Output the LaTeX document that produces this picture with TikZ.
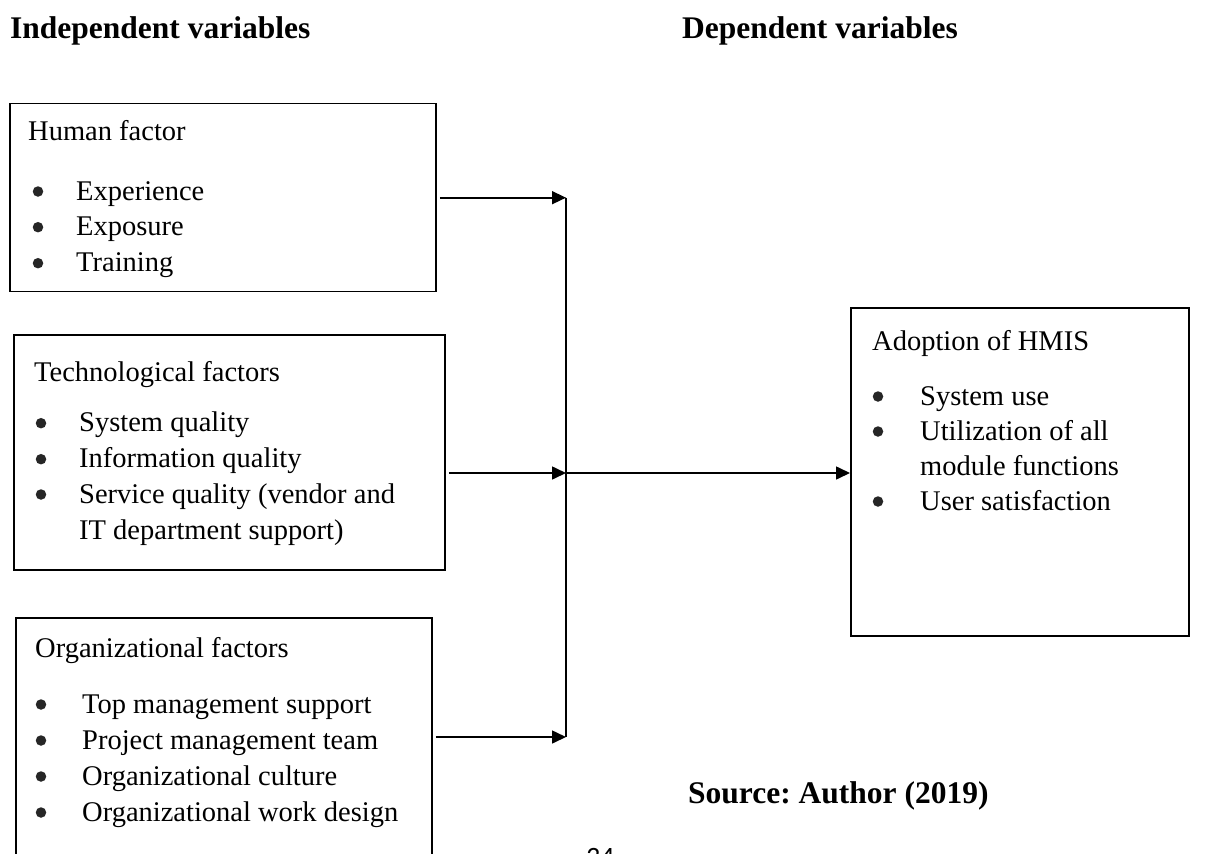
\documentclass[tikz,border=0pt]{standalone}
\usepackage{fontspec}
\setmainfont{Liberation Serif}
\newfontfamily\pagenumfont{Carlito}
\usetikzlibrary{arrows.meta}
\begin{document}
\frenchspacing
\begin{tikzpicture}[x=1pt,y=-1pt,
  box/.style={draw,line width=1.8pt,inner sep=0pt,anchor=north west},
  tx/.style={anchor=base west,inner sep=0pt,font=\fontsize{28.5}{34}\selectfont},
  dot/.style={circle,fill=black!85,draw=none,inner sep=0pt,minimum size=10.5pt,yshift=8.5pt},
  hd/.style={anchor=base west,inner sep=0pt,font=\fontsize{31.5}{36}\selectfont\bfseries},
  pgn/.style={anchor=base west,inner sep=0pt,font=\pagenumfont\fontsize{28}{30}\selectfont},
  ln/.style={line width=1.6pt},
  arr/.style={line width=1.6pt,-{Triangle[length=14pt,width=13pt]}}]
\useasboundingbox (0,0) rectangle (1211,854);
\begin{scope}
\clip (0,0) rectangle (1211,854);
\fill[white] (0,0) rectangle (1211,854);
% headings
\node[hd] (ih) at (10,38) {Independent variables};
\node[hd] (dh) at (682,38) {Dependent variables};
\node[hd] (src) at (688,803) {Source: Author (2019)};
\node[pgn] (pg) at (586,866) {34};
% boxes
\node[box,minimum width=426pt,minimum height=188pt] (hb) at (9,102.5) {};
\node[box,minimum width=431pt,minimum height=235pt] (tb) at (13,334) {};
\node[box,minimum width=416pt,minimum height=300pt] (ob) at (15,617) {};
\node[box,minimum width=338pt,minimum height=328pt] (ab) at (850,307) {};
% human
\node[tx] (h0) at (28,140.7) {Human factor};
\node[dot] (hd1) at (38,200) {}; \node[tx] (h1) at (76,200) {Experience};
\node[dot] (hd2) at (38,235.7) {}; \node[tx] (h2) at (76,235.7) {Exposure};
\node[dot] (hd3) at (38,271.7) {}; \node[tx] (h3) at (76,271.7) {Training};
% technological
\node[tx] (t0) at (34,381.7) {Technological factors};
\node[dot] (td1) at (41,431.7) {}; \node[tx] (t1) at (79,431.7) {System quality};
\node[dot] (td2) at (41,467.7) {}; \node[tx] (t2) at (79,467.7) {Information quality};
\node[dot] (td3) at (41,503) {}; \node[tx] (t3) at (79,503) {Service quality (vendor and};
\node[tx] (t4) at (79,539) {IT department support)};
% organizational
\node[tx] (o0) at (35,657) {Organizational factors};
\node[dot] (od1) at (41,713) {}; \node[tx] (o1) at (82,713) {Top management support};
\node[dot] (od2) at (41,749) {}; \node[tx] (o2) at (82,749) {Project management team};
\node[dot] (od3) at (41,785) {}; \node[tx] (o3) at (82,785) {Organizational culture};
\node[dot] (od4) at (41,821) {}; \node[tx] (o4) at (82,821) {Organizational work design};
% adoption
\node[tx] (a0) at (872,350) {Adoption of HMIS};
\node[dot] (ad1) at (878,405) {}; \node[tx] (a1) at (920,405) {System use};
\node[dot] (ad2) at (878,440) {}; \node[tx] (a2) at (920,440) {Utilization of all};
\node[tx] (a3) at (920,475) {module functions};
\node[dot] (ad3) at (878,510) {}; \node[tx] (a4) at (920,510) {User satisfaction};
% connectors
\coordinate (j1) at (566,197.7);
\coordinate (j2) at (566,473);
\coordinate (j3) at (566,737);
\draw[ln] (j1) -- (j3);
\draw[arr,shorten <=3pt] (hb.east |- j1) -- (j1);
\draw[arr,shorten <=3pt] (tb.east |- j2) -- (j2);
\draw[arr,shorten <=3pt] (ob.east |- j3) -- (j3);
\draw[arr] (j2) -- (ab.west |- j2);
\end{scope}
\end{tikzpicture}
\end{document}
